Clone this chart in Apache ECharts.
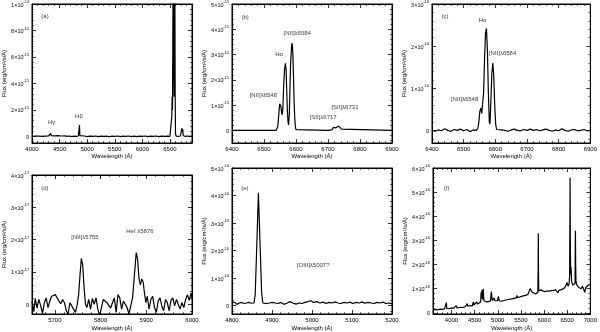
<!DOCTYPE html>
<html>
<head>
<meta charset="utf-8">
<script src="https://cdn.jsdelivr.net/npm/echarts@6/dist/echarts.min.js"></script>
<style>
  html, body { margin: 0; padding: 0; background: #fff; }
  #chart { width: 600px; height: 332px; }
</style>
</head>
<body>
<div id="chart"></div>
<script>
// Flux values are in units of 10^exp (exp given per panel below)

// (a) full spectrum, 10^-15
const specA = [
  [4000, 0.0], [4030, 0.08], [4060, 0.02], [4090, 0.1], [4120, 0.03], [4150, 0.06], [4180, 0.0],
  [4210, 0.05], [4240, 0.02], [4270, 0.06], [4300, 0.03], [4330, 0.08], [4340, 0.22], [4350, 0.06],
  [4380, 0.0], [4410, 0.04], [4440, -0.03], [4470, 0.05], [4500, 0.0], [4530, 0.03], [4560, -0.02],
  [4600, 0.04], [4640, 0.0], [4680, 0.03], [4720, -0.02], [4760, 0.02], [4800, 0.0], [4840, 0.03],
  [4855, 0.05], [4861, 0.85], [4867, 0.05], [4900, 0.0], [4950, 0.03], [5000, -0.02], [5050, 0.02],
  [5100, 0.0], [5150, 0.03], [5200, -0.02], [5250, 0.02], [5300, 0.0], [5350, 0.02], [5400, -0.03],
  [5450, 0.02], [5500, 0.0], [5550, 0.03], [5600, -0.02], [5650, 0.02], [5700, 0.0], [5750, 0.03],
  [5800, -0.02], [5850, 0.02], [5876, 0.06], [5900, -0.02], [5950, 0.02], [6000, 0.0], [6050, 0.03],
  [6100, -0.02], [6150, 0.02], [6200, 0.0], [6250, 0.03], [6300, -0.02], [6350, 0.02], [6400, 0.0],
  [6450, 0.02], [6500, 0.0], [6528, 0.05], [6534, 1.5], [6540, 3.0], [6546, 2.0], [6551, 6.0],
  [6557, 12], [6569, 12], [6574, 3.0], [6579, 10], [6589, 12], [6595, 3.0], [6601, 0.2], [6612, 0.02],
  [6650, 0.0], [6690, 0.03], [6705, 0.1], [6717, 0.6], [6724, 0.35], [6731, 0.55], [6742, 0.05],
  [6780, 0.0], [6820, 0.03], [6860, 0.0], [6900, 0.02]
];
const notesA = [[4236, 9.03, '(a)'], [4357, 1.07, 'Hγ'], [4851, 1.53, 'Hβ']];

// (b) Halpha region, 10^-15
const specB = [
  [6400, 0], [6538, 0], [6540, 0.02], [6543, 0.15], [6546, 0.6], [6549, 1.05], [6551, 1.12],
  [6553, 0.95], [6555, 0.7], [6557, 0.62], [6559, 0.9], [6561, 1.6], [6564, 2.4], [6567, 2.65],
  [6569, 2.4], [6571, 1.6], [6573, 0.8], [6575, 0.35], [6577, 0.22], [6579, 0.6], [6581, 1.6],
  [6583, 2.6], [6586, 3.3], [6588, 3.45], [6590, 3.1], [6592, 2.2], [6594, 1.2], [6596, 0.5],
  [6598, 0.15], [6600, 0.03], [6603, 0], [6700, 0], [6712, 0.02], [6717, 0.12], [6721, 0.17],
  [6725, 0.1], [6728, 0.09], [6733, 0.17], [6737, 0.15], [6742, 0.05], [6748, 0], [6900, 0]
];
const notesB = [
  [6441, 4.49, '(b)'], [6604, 3.84, '[NII]λ6584'], [6547, 3.02, 'Hα'],
  [6498, 1.37, '[NII]λ6548'], [6753, 0.92, '[SII]λ6731'], [6685, 0.50, '[SII]λ6717']
];

// (c) Halpha region, 10^-16
const specC = [
  [6400, 0.0], [6410, -0.02], [6420, 0.01], [6430, -0.01], [6440, 0.04], [6450, 0.0], [6460, -0.02],
  [6470, 0.02], [6480, 0.0], [6490, 0.03], [6500, -0.01], [6510, 0.02], [6520, -0.03], [6530, 0.01],
  [6540, 0.0], [6545, 0.05], [6548, 0.2], [6551, 0.45], [6554, 0.53], [6557, 0.4], [6560, 0.38],
  [6563, 0.9], [6566, 1.7], [6569, 2.3], [6572, 2.42], [6575, 1.9], [6578, 0.9], [6581, 0.2],
  [6583, 0.15], [6586, 0.7], [6589, 1.35], [6592, 1.6], [6595, 1.3], [6598, 0.6], [6601, 0.15],
  [6604, 0.02], [6610, 0.04], [6620, 0.01], [6630, 0.0], [6640, -0.02], [6650, 0.01], [6660, 0.03],
  [6670, 0.0], [6680, -0.01], [6690, 0.02], [6700, 0.0], [6710, 0.03], [6720, 0.0], [6730, 0.02],
  [6740, -0.01], [6750, 0.01], [6760, 0.03], [6770, 0.0], [6780, -0.02], [6790, 0.01], [6800, -0.01],
  [6810, 0.04], [6820, 0.0], [6830, -0.02], [6840, 0.01], [6850, 0.02], [6860, -0.01], [6870, 0.0],
  [6880, 0.02], [6890, -0.01], [6900, 0.0]
];
const notesC = [[6441, 2.70, '(c)'], [6560, 2.62, 'Hα'], [6623, 1.84, '[NII]λ6584'], [6503, 0.73, '[NII]λ6548']];

// (d) [NII]5755 / HeI 5876, 10^-17
const specD = [
  [5650, 0.08], [5654, -0.22], [5657, 0.18], [5661, -0.12], [5665, 0.15], [5669, -0.05], [5673, -0.28],
  [5677, 0.05], [5681, 0.2], [5685, -0.1], [5689, 0.1], [5693, 0.25], [5697, 0.2], [5701, 0.3],
  [5705, 0.28], [5709, 0.1], [5713, 0.02], [5717, 0.15], [5721, 0.05], [5725, -0.2], [5729, -0.3],
  [5733, 0.05], [5737, 0.1], [5741, -0.15], [5745, -0.25], [5749, 0.0], [5752, 0.3], [5755, 0.9],
  [5758, 1.42], [5761, 1.2], [5764, 0.5], [5767, 0.0], [5770, -0.1], [5774, 0.15], [5778, -0.15],
  [5782, 0.18], [5786, 0.0], [5790, 0.2], [5794, -0.15], [5798, -0.35], [5802, -0.1], [5806, 0.15],
  [5810, 0.2], [5814, 0.05], [5818, 0.1], [5822, -0.12], [5826, 0.05], [5830, 0.2], [5834, -0.25],
  [5838, 0.3], [5842, 0.2], [5846, -0.15], [5850, 0.1], [5854, 0.0], [5858, -0.1], [5862, -0.3],
  [5866, -0.05], [5870, 0.2], [5874, 0.9], [5878, 1.6], [5881, 1.4], [5884, 0.8], [5887, 0.6],
  [5890, 0.78], [5893, 0.7], [5896, 0.35], [5899, 0.05], [5902, 0.25], [5906, -0.15], [5910, 0.15],
  [5914, 0.25], [5918, -0.1], [5922, -0.25], [5926, 0.1], [5930, 0.2], [5934, -0.05], [5938, -0.2],
  [5942, 0.15], [5946, 0.05], [5950, -0.2], [5954, 0.12], [5958, 0.2], [5962, -0.05], [5966, 0.15],
  [5970, 0.2], [5974, -0.15], [5978, 0.05], [5982, -0.1], [5986, 0.15], [5990, 0.3], [5994, 0.12],
  [5998, 0.35], [6000, 0.2]
];
const notesD = [[5678, 3.58, '(d)'], [5766, 2.07, '[NII]λ5755'], [5886, 2.25, 'HeI λ5876']];

// (e) Hbeta region, 10^-16
const specE = [
  [4800, 0.1], [4806, 0.13], [4812, 0.05], [4818, 0.1], [4824, 0.12], [4830, 0.08], [4836, 0.1],
  [4842, 0.12], [4848, 0.09], [4855, 0.1], [4858, 0.4], [4862, 2.2], [4866, 4.1], [4870, 2.3],
  [4874, 0.5], [4877, 0.1], [4882, 0.12], [4888, 0.08], [4894, 0.1], [4900, 0.12], [4908, 0.1],
  [4915, 0.08], [4922, 0.12], [4930, 0.05], [4938, 0.1], [4945, 0.15], [4952, 0.1], [4960, 0.06],
  [4968, 0.1], [4975, 0.08], [4982, 0.12], [4990, 0.15], [4997, 0.18], [5004, 0.12], [5012, 0.15],
  [5020, 0.1], [5028, 0.13], [5035, 0.08], [5042, 0.12], [5050, 0.1], [5058, 0.14], [5065, 0.1],
  [5072, 0.08], [5080, 0.12], [5088, 0.1], [5095, 0.13], [5102, 0.08], [5110, 0.12], [5118, 0.1],
  [5125, 0.14], [5132, 0.09], [5140, 0.12], [5148, 0.1], [5155, 0.08], [5162, 0.12], [5170, 0.1],
  [5178, 0.13], [5185, 0.08], [5192, 0.1], [5200, 0.07]
];
const notesE = [[4832, 4.25, '(e)'], [5003, 1.47, '[OIII]λ5007?']];

// (f) full spectrum with continuum, 10^-16
const specF = [
  [3600, 0.12], [3650, 0.14], [3700, 0.12], [3750, 0.15], [3800, 0.14], [3850, 0.16], [3880, 0.18],
  [3889, 0.42], [3898, 0.18], [3950, 0.17], [4000, 0.2], [4050, 0.19], [4090, 0.22], [4102, 0.3],
  [4115, 0.2], [4150, 0.21], [4200, 0.23], [4250, 0.22], [4300, 0.26], [4330, 0.27], [4340, 0.38],
  [4352, 0.27], [4400, 0.3], [4450, 0.29], [4471, 0.45], [4485, 0.32], [4520, 0.36], [4540, 0.45],
  [4560, 0.36], [4600, 0.4], [4630, 0.45], [4640, 0.85], [4650, 0.6], [4660, 0.95], [4672, 0.55],
  [4686, 1.0], [4700, 0.5], [4720, 0.45], [4760, 0.45], [4800, 0.46], [4840, 0.48], [4861, 0.88],
  [4880, 0.5], [4900, 0.48], [4921, 0.62], [4935, 0.5], [4960, 0.46], [4990, 0.5], [5015, 0.68],
  [5030, 0.5], [5080, 0.48], [5150, 0.52], [5200, 0.54], [5250, 0.56], [5300, 0.58], [5350, 0.6],
  [5400, 0.62], [5412, 0.72], [5425, 0.63], [5480, 0.66], [5550, 0.7], [5600, 0.72], [5650, 0.76],
  [5680, 0.9], [5700, 1.0], [5720, 0.95], [5740, 0.86], [5780, 0.8], [5820, 0.78], [5850, 0.8],
  [5866, 0.85], [5872, 1.8], [5876, 3.3], [5880, 1.8], [5885, 0.9], [5900, 0.85], [5930, 0.95],
  [5950, 0.88], [6000, 0.88], [6050, 0.9], [6100, 0.9], [6150, 0.92], [6200, 0.93], [6250, 0.95],
  [6280, 0.92], [6300, 0.82], [6320, 0.93], [6360, 0.96], [6400, 0.98], [6450, 1.05], [6480, 1.1],
  [6500, 1.25], [6520, 1.1], [6540, 1.2], [6552, 1.5], [6558, 3.5], [6563, 5.6], [6568, 3.0],
  [6575, 1.6], [6584, 1.9], [6595, 1.3], [6620, 1.15], [6650, 1.1], [6670, 1.2], [6674, 2.5],
  [6678, 3.4], [6683, 2.0], [6690, 1.3], [6710, 1.15], [6730, 1.2], [6750, 1.05], [6780, 1.1],
  [6800, 1.0], [6830, 1.1], [6860, 1.05], [6880, 0.85], [6900, 1.05], [6930, 1.12], [6960, 1.15],
  [7000, 1.17]
];
const notesF = [[3895, 5.15, '(f)']];

const FONT = 'Liberation Sans';

// panelLeft: left edge of the panel cell, used to place the y-axis title
const panels = [
  { panelLeft: 0,   left: 32,  top: 2,   width: 160, height: 141, x: [4000, 6900], xInterval: 500, showMax: false, y: [-0.5, 10], ySplit: 5, exp: -15, nameGapX: 10, data: specA, notes: notesA },
  { panelLeft: 200, left: 232, top: 2,   width: 160, height: 141, x: [6400, 6900], xInterval: 100, showMax: true,  y: [-0.5, 5],  ySplit: 5, exp: -15, nameGapX: 10, data: specB, notes: notesB },
  { panelLeft: 400, left: 432, top: 2,   width: 160, height: 141, x: [6400, 6900], xInterval: 100, showMax: true,  y: [-0.3, 3],  ySplit: 3, exp: -16, nameGapX: 10, data: specC, notes: notesC },
  { panelLeft: 0,   left: 32,  top: 175, width: 160, height: 140, x: [5650, 6000], xSplit: 4,      showMax: true,  y: [-0.3, 4],  ySplit: 4, exp: -17, nameGapX: 11, data: specD, notes: notesD },
  { panelLeft: 200, left: 232, top: 168, width: 160, height: 147, x: [4800, 5200], xInterval: 100, showMax: true,  y: [-0.3, 5],  ySplit: 5, exp: -16, nameGapX: 11, data: specE, notes: notesE },
  { panelLeft: 400, left: 433, top: 168, width: 158, height: 147, x: [3600, 7000], xSplit: 7,      showMax: true,  y: [-0.05, 6], ySplit: 6, exp: -16, nameGapX: 11, data: specF, notes: notesF }
];

function yLabel(v, exp) {
  if (Math.abs(v) < 1e-9) return '{m|0}';
  let m = v, e = exp;
  while (Math.abs(m) >= 10) { m /= 10; e += 1; }
  return '{m|' + m + '×10}{s|' + e + '}';
}

const grid = [], xAxis = [], yAxis = [], series = [];

panels.forEach((p, i) => {
  grid.push({ left: p.left, top: p.top, width: p.width, height: p.height, show: true, borderColor: '#000', borderWidth: 1 });

  const tick = { show: true, inside: true, length: 4, lineStyle: { color: '#000', width: 0.8 } };
  const minor = { show: true, splitNumber: 5, length: 2, lineStyle: { color: '#000', width: 0.6 } };
  const line = { show: true, onZero: false, lineStyle: { color: '#000', width: 1 } };

  const xBase = {
    type: 'value', gridIndex: i, min: p.x[0], max: p.x[1],
    axisLine: line, axisTick: tick, minorTick: minor, splitLine: { show: false }
  };
  if (p.xInterval) xBase.interval = p.xInterval; else xBase.splitNumber = p.xSplit;

  xAxis.push(Object.assign({}, xBase, {
    position: 'bottom',
    name: 'Wavelength (Å)', nameLocation: 'middle', nameGap: p.nameGapX,
    nameTextStyle: { fontSize: 6, color: '#000', fontFamily: FONT },
    axisLabel: {
      fontSize: 6, color: '#000', fontFamily: FONT, margin: 3,
      showMinLabel: !!p.xInterval, showMaxLabel: p.showMax, hideOverlap: false,
      formatter: v => String(v)
    }
  }));
  xAxis.push(Object.assign({}, xBase, { position: 'top', axisLabel: { show: false } }));

  const yBase = {
    type: 'value', gridIndex: i, min: p.y[0], max: p.y[1], splitNumber: p.ySplit,
    axisLine: line, axisTick: tick, minorTick: minor, splitLine: { show: false }
  };
  yAxis.push(Object.assign({}, yBase, {
    position: 'left',
    name: 'Flux (erg/cm²/s/Å)', nameLocation: 'middle', nameGap: p.left - p.panelLeft - 8,
    nameTextStyle: { fontSize: 6, color: '#000', fontFamily: FONT },
    axisLabel: {
      color: '#000', margin: 3, showMinLabel: false,
      formatter: v => yLabel(v, p.exp),
      rich: {
        m: { fontSize: 5.5, fontFamily: FONT, color: '#000', lineHeight: 8, verticalAlign: 'bottom' },
        s: { fontSize: 3.8, fontFamily: FONT, color: '#000', lineHeight: 8, verticalAlign: 'top' }
      }
    }
  }));
  yAxis.push(Object.assign({}, yBase, { position: 'right', axisLabel: { show: false } }));

  series.push({
    type: 'line', xAxisIndex: 2 * i, yAxisIndex: 2 * i,
    data: p.data, showSymbol: false, symbol: 'none', clip: true,
    lineStyle: { color: '#000', width: 1.2 }, animation: false
  });
  series.push({
    type: 'scatter', xAxisIndex: 2 * i, yAxisIndex: 2 * i,
    data: p.notes.map(n => ({ value: [n[0], n[1]], name: n[2] })),
    symbolSize: 0, itemStyle: { color: 'transparent' }, silent: true, animation: false,
    label: { show: true, position: 'inside', formatter: '{b}', fontSize: 6, color: '#000', fontFamily: FONT }
  });
});

const chart = echarts.init(document.getElementById('chart'), null, { renderer: 'canvas' });
chart.setOption({ backgroundColor: '#fff', animation: false, grid, xAxis, yAxis, series });
</script>
</body>
</html>
